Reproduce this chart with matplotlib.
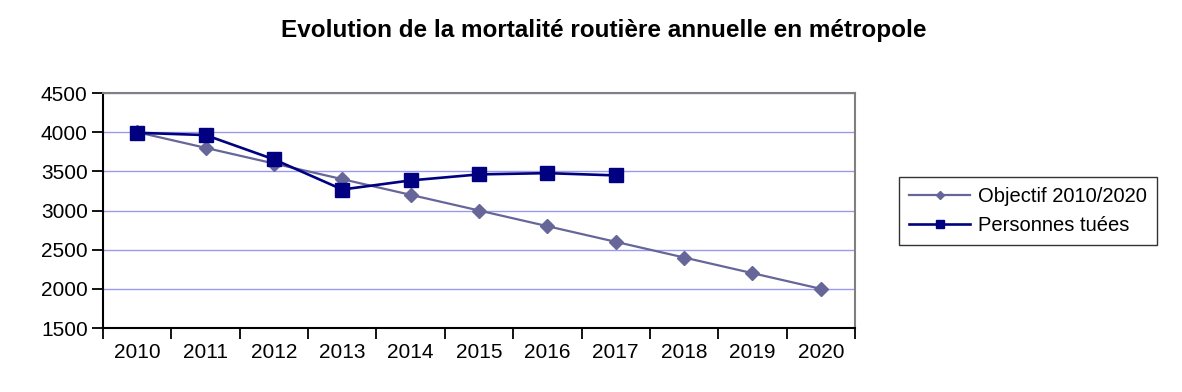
import matplotlib
matplotlib.use("Agg")
import matplotlib.pyplot as plt
from matplotlib.ticker import FixedLocator

# Données
annees = ["2010", "2011", "2012", "2013", "2014", "2015", "2016", "2017", "2018", "2019", "2020"]
objectif = [4000, 3800, 3600, 3400, 3200, 3000, 2800, 2600, 2400, 2200, 2000]
tues = [3992, 3963, 3653, 3268, 3384, 3461, 3477, 3448]

plt.rcParams["font.family"] = ["Liberation Sans", "DejaVu Sans"]

fig = plt.figure(figsize=(11.82, 3.92), dpi=100)
ax = fig.add_axes([103 / 1182, 1 - 328 / 392, (855 - 103) / 1182, (328 - 93) / 392])

x_obj = list(range(len(objectif)))
x_tues = list(range(len(tues)))

l1, = ax.plot(x_obj, objectif, color="#666699", lw=1.6, marker="D", ms=7,
              label="Objectif 2010/2020", zorder=3)
l2, = ax.plot(x_tues, tues, color="#000080", lw=1.9, marker="s", ms=10,
              label="Personnes tuées", zorder=4)

ax.set_xlim(-0.5, len(annees) - 0.5)
ax.set_ylim(1500, 4500)
ax.set_yticks(range(1500, 4501, 500))
ax.tick_params(axis="y", labelsize=15, length=8, width=1.3, direction="out", pad=3)

# ticks aux frontières, étiquettes au centre des catégories
ax.xaxis.set_major_locator(FixedLocator([i - 0.5 for i in range(len(annees) + 1)]))
ax.xaxis.set_major_formatter(plt.NullFormatter())
ax.xaxis.set_minor_locator(FixedLocator(x_obj))
ax.set_xticklabels(annees, minor=True)
ax.tick_params(axis="x", which="major", length=8, width=1.3, direction="out")
ax.tick_params(axis="x", which="minor", length=0, labelsize=15, pad=11)

ax.yaxis.grid(True, color="#9999ee", lw=1)
ax.set_axisbelow(True)
for s in ["top", "right"]:
    ax.spines[s].set_color("#808080")
    ax.spines[s].set_linewidth(1.5)
for s in ["left", "bottom"]:
    ax.spines[s].set_color("black")
    ax.spines[s].set_linewidth(1.5)

fig.text(604 / 1182, 1 - 30 / 392, "Evolution de la mortalité routière annuelle en métropole",
         ha="center", va="center", fontsize=17.5, fontweight="bold")

leg = fig.legend(handles=[l1, l2], loc="center", bbox_to_anchor=(1028 / 1182, 1 - 211 / 392),
                 fontsize=14.5, frameon=True, fancybox=False, edgecolor="black",
                 handlelength=3.0, markerscale=0.6, borderpad=0.5, labelspacing=0.5,
                 handletextpad=0.4)
leg.get_frame().set_linewidth(1)

fig.savefig("out.png", dpi=100)
